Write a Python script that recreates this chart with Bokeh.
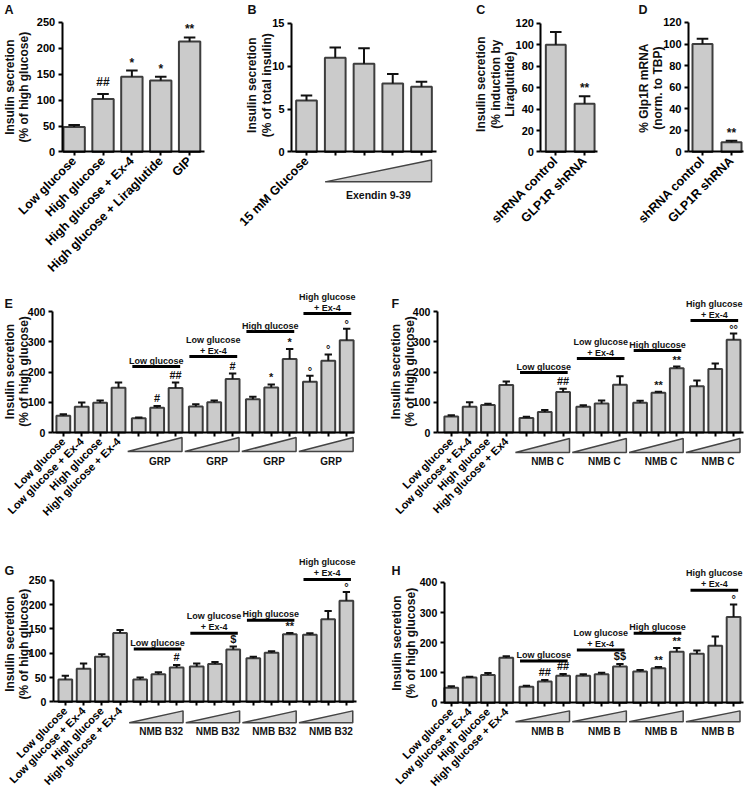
import math
from bokeh.plotting import figure
from bokeh.models import Range1d, LinearAxis, FixedTicker
from bokeh.layouts import row, column
from bokeh.embed import file_html
from bokeh.resources import INLINE
from bokeh.core.properties import value

# ---------------- data ----------------
a_labels = ["Low glucose", "High glucose", "High glucose + Ex-4", "High glucose + Liraglutide", "GIP"]
a_mean = [48, 102, 145, 138, 213]
a_sem = [4, 10, 12, 7, 8]
a_sig = ["", "##", "*", "*", "**"]

b_labels = ["15 mM Glucose", "", "", "", ""]
b_mean = [6.0, 11.0, 10.3, 8.0, 7.6]
b_sem = [0.6, 1.2, 1.8, 1.1, 0.6]
b_sig = ["", "", "", "", ""]
b_ramp = "Exendin 9-39"

c_labels = ["shRNA control", "GLP1R shRNA"]
c_mean = [100, 45]
c_sem = [12, 7]
c_sig = ["", "**"]

d_labels = ["shRNA control", "GLP1R shRNA"]
d_mean = [100, 9]
d_sem = [5, 1.5]
d_sig = ["", "**"]

ctrl_labels = ["Low glucose", "Low glucose + Ex-4", "High glucose", "High glucose + Ex-4"]
ctrl_labels_f = ["Low glucose", "Low glucose + Ex-4", "High glucose", "High glucose + Ex4"]
group_titles = [["Low glucose"], ["Low glucose", "+ Ex-4"], ["High glucose"], ["High glucose", "+ Ex-4"]]

e_mean = [55, 85, 98, 148, 47, 82, 147, 86, 100, 177, 110, 149, 243, 168, 237, 305]
e_sem = [5, 14, 8, 17, 3, 6, 18, 7, 6, 18, 8, 10, 33, 20, 21, 38]
e_sig = ["", "", "", "", "", "#", "##", "", "", "#", "", "*", "*", "°", "°", "°"]
e_ramp = "GRP"

f_mean = [53, 85, 91, 157, 48, 68, 134, 85, 96, 158, 98, 131, 212, 153, 210, 307]
f_sem = [4, 15, 4, 12, 4, 6, 11, 5, 10, 28, 7, 4, 6, 19, 18, 20]
f_sig = ["", "", "", "", "", "", "##", "", "", "", "", "**", "**", "", "", "°°"]
f_ramp = "NMB C"

g_mean = [46, 68, 93, 142, 46, 57, 71, 73, 78, 108, 90, 101, 139, 138, 170, 208]
g_sem = [8, 11, 5, 6, 4, 4, 5, 6, 4, 6, 3, 3, 3, 3, 17, 18]
g_sig = ["", "", "", "", "", "", "#", "", "", "$", "", "", "**", "", "", "°"]
g_ramp = "NMB B32"

h_mean = [50, 84, 93, 150, 54, 71, 90, 90, 95, 121, 104, 115, 170, 163, 190, 285]
h_sem = [5, 3, 6, 5, 3, 5, 6, 5, 5, 8, 5, 4, 12, 11, 30, 42]
h_sig = ["", "", "", "", "", "##", "##", "", "", "$$", "", "**", "**", "", "", "°"]
h_ramp = "NMB B"

ylab_hg = ["Insulin secretion", "(% of high glucose)"]
ylab_b = ["Insulin secretion", "(% of total insulin)"]
ylab_c = ["Insulin secretion", "(% induction by", "Liraglutide)"]
ylab_d = ["% Glp1R mRNA", "(norm. to TBP)"]

# ---------------- layout / style ----------------
SX, SY = 745 / 747, 801 / 803
U = 10
FONT_NAME = "Liberation Sans"
FONT = value(FONT_NAME)
BAR_FILL = "#cbcbcb"
BAR_LINE = "#3d3d3d"
INK = "#111111"


def grouped_positions(n_ctrl=4, n_groups=4, per=3, gap=0.1):
    pos = list(range(n_ctrl))
    for gi in range(n_groups):
        for j in range(per):
            pos.append(n_ctrl + gi * per + j + gap * (gi + 1))
    return pos


def style_axis(ax, fs):
    ax.axis_line_width = 2
    ax.axis_line_color = "black"
    ax.major_tick_line_width = 2
    ax.major_tick_line_color = "black"
    ax.major_tick_in = 0
    ax.major_tick_out = 4
    ax.minor_tick_line_color = None
    ax.major_label_text_font = FONT_NAME
    ax.major_label_text_font_style = "bold"
    ax.major_label_text_font_size = fs
    ax.major_label_text_color = "black"
    ax.major_label_standoff = 3


def txt(p, xs, ys, texts, fs, align="center", baseline="middle", angle=0.0):
    p.text(x=xs, y=ys, text=texts, text_font=FONT, text_font_style="bold",
           text_font_size=fs, text_align=align, text_baseline=baseline,
           angle=angle, text_color=INK)


def panel(g, letter, labels, means, sems, sig, ylab, row1=True, ramp=None, groups=False):
    X0, Y0, X1, Y1 = g["canvas"]
    kx = g["kx"] / U
    ky = g["ky"]

    def dx(px):
        return (px - g["bar0"]) / kx

    def dy(py):
        return (g["y0"] - py) / ky

    W = round(X1 * SX) - round(X0 * SX)
    H = round(Y1 * SY) - round(Y0 * SY)
    p = figure(width=W, height=H, x_range=Range1d(dx(X0), dx(X1)), y_range=Range1d(dy(Y1), dy(Y0)),
               x_axis_type=None, y_axis_type=None, output_backend="svg", toolbar_location=None,
               min_border_left=0, min_border_right=0, min_border_top=0, min_border_bottom=0)
    p.outline_line_color = None
    p.background_fill_color = "white"

    xs = [round(v * U) for v in g["pos"]]
    tick_fs = "11px" if row1 else "10.5px"
    cat_fs = "12.5px" if row1 else "11px"
    sig_fs = "12px" if row1 else "11px"

    yax = LinearAxis(fixed_location=dx(g["axis_x"]), bounds=(0, g["ytop"]),
                     ticker=FixedTicker(ticks=list(range(0, g["ytop"] + 1, g["ystep"]))))
    style_axis(yax, tick_fs)
    p.add_layout(yax, "left")

    xax = LinearAxis(fixed_location=0, bounds=(dx(g["axis_x"]), dx(g["axis_end"])),
                     ticker=FixedTicker(ticks=xs),
                     major_label_overrides={x: lab for x, lab in zip(xs, labels)},
                     major_label_orientation=math.pi / 4)
    style_axis(xax, cat_fs)
    p.add_layout(xax, "below")

    # bars + error bars
    p.vbar(x=xs, top=means, bottom=0, width=g["bw"] * U, fill_color=BAR_FILL,
           line_color=BAR_LINE, line_width=2)
    tops = [m + s for m, s in zip(means, sems)]
    cw = 0.2 * U
    p.segment(x0=xs, y0=means, x1=xs, y1=tops, line_color=INK, line_width=2)
    p.segment(x0=[x - cw for x in xs], y0=tops, x1=[x + cw for x in xs], y1=tops,
              line_color=INK, line_width=2)

    # significance marks
    for x, t, s in zip(xs, tops, sig):
        if not s:
            continue
        if "*" in s:
            off = 1
        elif "°" in s:
            off = -1
        else:
            off = 5 if row1 else 2
        txt(p, [x], [t + off / ky], [s], sig_fs, baseline="bottom")

    # y-axis title (rotated lines)
    txt(p, [dx(v) for v in g["ylab_x"]], [dy(g["ylab_cy"])] * len(ylab), ylab, "12px",
        angle=math.pi / 2)

    # panel letter
    txt(p, [dx(g["letter"][0])], [dy(g["letter"][1])], [letter], "12.5px", align="left", baseline="top")

    if ramp is not None and not groups:
        a, b = xs[1] - 0.35 * U, xs[-1] + 0.35 * U
        yt, yb, yl = g["wedge"]
        p.patches(xs=[[a, b, b]], ys=[[dy(g["y0"] + yb), dy(g["y0"] + yt), dy(g["y0"] + yb)]],
                  fill_color="#cfcfcf", line_color="#444444", line_width=1.5)
        txt(p, [(xs[1] + xs[-1]) / 2], [dy(g["y0"] + yl)], [ramp], "10.5px")

    if groups:
        wxs, wys = [], []
        yt, yb, yl = g["wedge"]
        for gi in range(4):
            idx = [4 + gi * 3 + j for j in range(3)]
            x0 = xs[idx[0]] - 0.35 * U
            x1 = xs[idx[-1]] + 0.25 * U
            lpx = g["glines"][gi]
            p.segment(x0=[x0], y0=[dy(lpx)], x1=[x1], y1=[dy(lpx)], line_color="black", line_width=3)
            lines = group_titles[gi]
            for k, t in enumerate(reversed(lines)):
                txt(p, [(x0 + x1) / 2], [dy(lpx - 6 - 11 * k)], [t], "9px", baseline="alphabetic")
            a = xs[idx[0]] - 0.6 * U
            b = xs[idx[-1]] + 0.35 * U
            wxs.append([a, b, b])
            wys.append([dy(g["y0"] + yb), dy(g["y0"] + yt), dy(g["y0"] + yb)])
            txt(p, [xs[idx[1]] + 0.15 * U], [dy(g["y0"] + yl)], [ramp], "10px")
        p.patches(xs=wxs, ys=wys, fill_color="#cfcfcf", line_color="#444444", line_width=1.5)

    return p


GP = grouped_positions()

geo_a = dict(canvas=(0, 0, 212, 285), y0=152, ky=0.52, ytop=250, ystep=50, axis_x=62, axis_end=205,
             bar0=74, kx=29, bw=0.74, pos=[0, 1, 2, 3, 4], ylab_x=[10, 24], ylab_cy=87, letter=(4, 3))
geo_b = dict(canvas=(212, 0, 440, 285), y0=152, ky=8.6, ytop=15, ystep=5, axis_x=292, axis_end=437,
             bar0=307, kx=28.75, bw=0.72, pos=[0, 1, 2, 3, 4], ylab_x=[252, 267], ylab_cy=85,
             letter=(248, 3), wedge=(8, 30, 43))
geo_c = dict(canvas=(440, 0, 603, 285), y0=152, ky=1.075, ytop=120, ystep=20, axis_x=542, axis_end=599,
             bar0=557, kx=29, bw=0.69, pos=[0, 1], ylab_x=[482, 497, 511], ylab_cy=84, letter=(477, 3))
geo_d = dict(canvas=(603, 0, 747, 285), y0=152, ky=1.083, ytop=120, ystep=20, axis_x=690, axis_end=745,
             bar0=704, kx=29, bw=0.69, pos=[0, 1], ylab_x=[645, 659], ylab_cy=88, letter=(640, 3))
geo_e = dict(canvas=(0, 285, 370, 555), y0=433, ky=0.3025, ytop=400, ystep=100, axis_x=52, axis_end=355,
             bar0=63, kx=18.45, bw=0.75, pos=GP, ylab_x=[10, 24], ylab_cy=372, letter=(4, 297),
             glines=[367, 357, 332, 314], wedge=(5, 19, 29))
geo_f = dict(canvas=(370, 285, 747, 555), y0=433, ky=0.3025, ytop=400, ystep=100, axis_x=438, axis_end=745,
             bar0=452, kx=18.38, bw=0.75, pos=GP, ylab_x=[397, 411], ylab_cy=372, letter=(392, 297),
             glines=[373, 359, 351, 321], wedge=(6, 20, 29))
geo_g = dict(canvas=(0, 555, 370, 803), y0=703, ky=0.488, ytop=250, ystep=50, axis_x=53, axis_end=357,
             bar0=65, kx=18.3, bw=0.75, pos=GP, ylab_x=[10, 24], ylab_cy=645, letter=(4, 565),
             glines=[650, 634, 621, 580], wedge=(9, 21, 30))
geo_h = dict(canvas=(370, 555, 747, 803), y0=704, ky=0.3025, ytop=400, ystep=100, axis_x=445, axis_end=745,
             bar0=452, kx=18.38, bw=0.75, pos=GP, ylab_x=[398, 412], ylab_cy=644, letter=(392, 565),
             glines=[662, 651, 634, 591], wedge=(8, 19, 29))

blank12 = [""] * 12
pA = panel(geo_a, "A", a_labels, a_mean, a_sem, a_sig, ylab_hg)
pB = panel(geo_b, "B", b_labels, b_mean, b_sem, b_sig, ylab_b, ramp=b_ramp)
pC = panel(geo_c, "C", c_labels, c_mean, c_sem, c_sig, ylab_c)
pD = panel(geo_d, "D", d_labels, d_mean, d_sem, d_sig, ylab_d)
pE = panel(geo_e, "E", ctrl_labels + blank12, e_mean, e_sem, e_sig, ylab_hg, row1=False, ramp=e_ramp, groups=True)
pF = panel(geo_f, "F", ctrl_labels_f + blank12, f_mean, f_sem, f_sig, ylab_hg, row1=False, ramp=f_ramp, groups=True)
pG = panel(geo_g, "G", ctrl_labels + blank12, g_mean, g_sem, g_sig, ylab_hg, row1=False, ramp=g_ramp, groups=True)
pH = panel(geo_h, "H", ctrl_labels + blank12, h_mean, h_sem, h_sig, ylab_hg, row1=False, ramp=h_ramp, groups=True)

layout = column(row(pA, pB, pC, pD), row(pE, pF), row(pG, pH))
open("out.html", "w").write(file_html(layout, INLINE))
